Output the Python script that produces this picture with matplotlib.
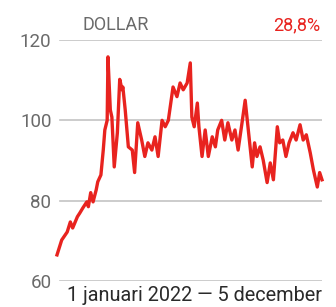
import matplotlib.pyplot as plt

# DATOS (dias desde 1 januari 2022, koers)
dagen = [0, 6, 13, 17, 20, 26, 29, 33, 38, 40, 43, 46, 50, 52, 56, 59, 61, 64, 65, 68,
         70, 73, 77, 80, 83, 84, 87, 91, 96, 99, 103, 108, 112, 116, 121, 125, 129,
         134, 138, 142, 148, 153, 157, 161, 166, 170, 172, 175, 179, 181, 185, 189,
         193, 198, 202, 205, 210, 214, 218, 223, 227, 231, 236, 240, 244, 249, 252,
         255, 259, 263, 268, 272, 276, 281, 284, 288, 292, 296, 301, 305, 310, 314,
         318, 323, 327, 332, 335, 338]
koers = [66.5, 70.2, 72.2, 74.7, 73.2, 76, 76.9, 78.2, 79.7, 78.5, 82, 79.7, 82.7, 84.7,
         86.4, 92.6, 97.6, 100, 115.8, 102.6, 100.8, 88.4, 96.9, 110.2, 107.6, 108.3, 102.6,
         93.4, 92.6, 87, 99.4, 95.1, 91, 94.4, 92.6, 95.9, 91, 100, 98.4, 100, 108.3,
         105.9, 109.3, 107.6, 109.3, 114.3, 100.8, 98.4, 104.3, 98.4, 91, 97.6, 91,
         95.9, 93.4, 97.6, 100, 95.1, 99.4, 95.1, 97.6, 92.6, 99.4, 105, 97.6, 88.4,
         94.4, 91, 93.4, 90.1, 84.5, 89.4, 85.2, 98.4, 94.4, 95.1, 91, 94.4, 96.9, 95.1,
         98.9, 95.1, 96.4, 91.9, 87.7, 83.4, 87, 85.2]
niveles = [60, 80, 100, 120]

titulo = "DOLLAR"
cambio = "28,8%"
periodo = "1 januari 2022 \u2014 5 december"

ROJO = "#e8231f"
GRIS = "#6a6a6a"

plt.rcParams['font.family'] = ['Roboto', 'DejaVu Sans']

fig = plt.figure(figsize=(3.36, 3.07), dpi=100)
ax = fig.add_axes([57 / 336, 26 / 307, 265 / 336, 241 / 307])

# LINEAS DE REFERENCIA
for n in niveles:
    ax.axhline(n, xmin=0.012, xmax=1.0, color="#c4c4c4", lw=1.2, zorder=1)

ax.plot(dagen, koers, color=ROJO, lw=2.4, solid_joinstyle="round", zorder=3, clip_on=False)

ax.set_xlim(0, 338)
ax.set_ylim(60, 120)
ax.set_yticks(niveles)
ax.set_yticklabels([str(n) for n in niveles], fontsize=13.5, color=GRIS)
ax.tick_params(axis="y", length=0, pad=4)
ax.set_xticks([])
for s in ax.spines.values():
    s.set_visible(False)

# TEXTOS
fig.text(83 / 336, 0.918, titulo, fontsize=13, color=GRIS, va="center", ha="left")
fig.text(320 / 336, 0.918, cambio, fontsize=13, color=ROJO, va="center", ha="right")
fig.text(67 / 336, 6 / 307, periodo, fontsize=14.3, color="#2a2a2a", va="baseline", ha="left")

fig.savefig("out.png", dpi=100, facecolor="white")
